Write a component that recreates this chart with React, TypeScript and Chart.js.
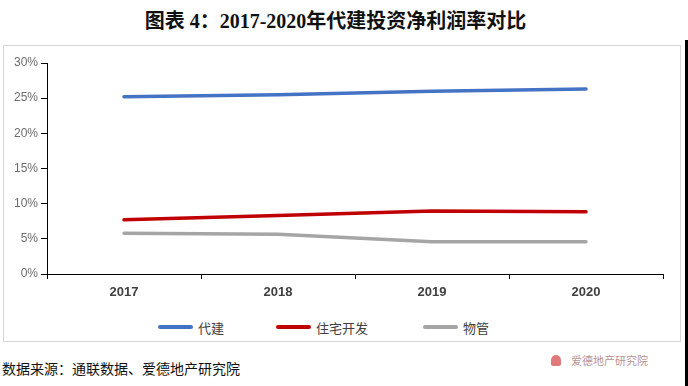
import React, { useEffect, useRef } from "react";
import { Chart, registerables } from "chart.js";

Chart.register(...registerables);

const categories = ["2017", "2018", "2019", "2020"];
const seriesNames = ["代建", "住宅开发", "物管"];
const daijian = [25.2, 25.5, 26.0, 26.3];
const zhuzhai = [7.7, 8.3, 8.95, 8.85];
const wuguan = [5.8, 5.65, 4.6, 4.6];
const seriesColors = ["#4472C4", "#C00000", "#A5A5A5"];
const yTicks = [0, 5, 10, 15, 20, 25, 30];

const title = "图表 4：2017-2020年代建投资净利润率对比";
const source = "数据来源：通联数据、爱德地产研究院";
const watermark = "爱德地产研究院";

export default function App() {
  const ref = useRef<HTMLCanvasElement | null>(null);

  useEffect(() => {
    if (!ref.current) return;
    const values = [daijian, zhuzhai, wuguan];
    const chart = new Chart(ref.current, {
      type: "line",
      data: {
        labels: categories,
        datasets: seriesNames.map((name, i) => ({
          label: name,
          data: values[i],
          borderColor: seriesColors[i],
          backgroundColor: seriesColors[i],
          borderWidth: 3.5,
          pointRadius: 0,
          tension: 0,
          borderCapStyle: "round" as const,
        })),
      },
      options: {
        animation: false,
        responsive: false,
        maintainAspectRatio: false,
        layout: { padding: { top: 17, right: 18, left: 0, bottom: 0 } },
        plugins: { legend: { display: false }, tooltip: { enabled: false } },
        scales: {
          x: {
            offset: true,
            grid: {
              offset: true,
              drawOnChartArea: false,
              drawTicks: true,
              tickLength: 5,
              color: "#000",
            },
            border: { color: "#000", width: 1 },
            ticks: {
              color: "#404040",
              padding: 6,
              font: { family: "Liberation Sans, Arial", size: 13, weight: "bold" },
            },
            afterFit: (s: any) => {
              s.height = 36;
            },
          },
          y: {
            min: 0,
            max: 30,
            afterBuildTicks: (s: any) => {
              s.ticks = yTicks.map((v) => ({ value: v }));
            },
            grid: {
              drawOnChartArea: false,
              drawTicks: true,
              tickLength: 6,
              color: "#000",
            },
            border: { color: "#000", width: 1 },
            ticks: {
              color: "#6b6b6b",
              padding: 3,
              font: { family: "Liberation Sans, Arial", size: 12 },
              callback: (v: any) => v + "%",
            },
            afterFit: (s: any) => {
              s.width = 43;
            },
          },
        },
      },
    });
    return () => chart.destroy();
  }, []);

  const legendPos = [158, 276, 423];

  return (
    <div
      style={{
        position: "absolute",
        left: 0,
        top: 0,
        width: 688,
        height: 386,
        background: "#fff",
        fontFamily: "'Noto Sans CJK SC', sans-serif",
        overflow: "hidden",
      }}
    >
      <div
        style={{
          position: "absolute",
          left: 0,
          top: 7,
          width: 671,
          textAlign: "center",
          fontSize: 20,
          fontWeight: "bold",
          lineHeight: "28px",
          color: "#111",
          fontFamily: "'Liberation Serif', 'Noto Sans CJK SC', serif",
          whiteSpace: "nowrap",
        }}
      >
        {title}
      </div>
      <div
        style={{
          position: "absolute",
          left: 3,
          top: 45,
          width: 676,
          height: 295,
          border: "1px solid #d6d6d6",
        }}
      />
      <canvas
        ref={ref}
        width={677}
        height={264}
        style={{ position: "absolute", left: 4, top: 46, width: 677, height: 264 }}
      />
      {seriesNames.map((name, i) => (
        <div
          key={name}
          style={{
            position: "absolute",
            left: legendPos[i],
            top: 318,
            height: 18,
            display: "flex",
            alignItems: "center",
            whiteSpace: "nowrap",
          }}
        >
          <span
            style={{
              display: "inline-block",
              width: 35,
              height: 4,
              borderRadius: 2,
              background: seriesColors[i],
              marginRight: 5,
            }}
          />
          <span style={{ fontSize: 13, color: "#404040" }}>{name}</span>
        </div>
      ))}
      <div
        style={{
          position: "absolute",
          left: 2,
          top: 358,
          fontSize: 14,
          lineHeight: "20px",
          color: "#111",
          whiteSpace: "nowrap",
        }}
      >
        {source}
      </div>
      <div
        style={{
          position: "absolute",
          left: 551,
          top: 353,
          height: 14,
          display: "flex",
          alignItems: "center",
          whiteSpace: "nowrap",
        }}
      >
        <span
          style={{
            display: "inline-block",
            width: 10,
            height: 11,
            borderRadius: "5px 5px 2px 2px",
            background: "#e07a7a",
            marginRight: 10,
          }}
        />
        <span style={{ fontSize: 11, color: "#b89494" }}>{watermark}</span>
      </div>
      <div
        style={{
          position: "absolute",
          left: 685,
          top: 40,
          width: 3,
          height: 346,
          background: "#000",
        }}
      />
    </div>
  );
}
